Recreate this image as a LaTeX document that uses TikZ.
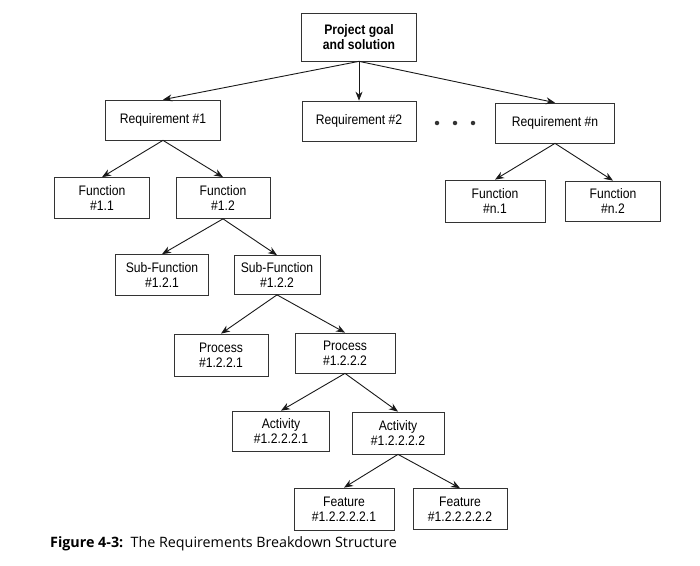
\documentclass[tikz,border=0pt]{standalone}
\usepackage{fontspec}
\setmainfont{Liberation Sans}[FakeStretch=0.88]
\newfontfamily\capfont{Open Sans}
\usetikzlibrary{arrows.meta}
\tikzset{
  box/.style={draw=black!80, line width=0.7pt, align=center, inner sep=2pt,
    font=\fontsize{13.8}{15.5}\selectfont, text=black},
  link/.style={draw=black!90, line width=0.9pt, -{Stealth[length=9pt,width=7pt]}},
  dot/.style={circle, fill=black!80, inner sep=0pt, minimum size=4.5pt}
}
\begin{document}
\begin{tikzpicture}[x=1pt,y=-1pt]
\useasboundingbox (0,0) rectangle (700,565);
\node[box, minimum width=115pt, minimum height=48pt, font=\bfseries\fontsize{13.8}{15.5}\selectfont] (goal) at (359,37) {Project goal\\and solution};
\node[box, minimum width=115pt, minimum height=40pt] (req1) at (163,120) {Requirement \#1};
\node[box, minimum width=114pt, minimum height=40pt] (req2) at (359,121) {Requirement \#2};
\node[box, minimum width=119pt, minimum height=40pt] (reqn) at (555,123) {Requirement \#n};
\node[dot] (d1) at (437,123) {};
\node[dot] (d2) at (455,123) {};
\node[dot] (d3) at (473,123) {};
\node[box, minimum width=95pt, minimum height=41pt] (f11) at (102,198) {Function\\\#1.1};
\node[box, minimum width=94pt, minimum height=41pt] (f12) at (223,198) {Function\\\#1.2};
\node[box, minimum width=100pt, minimum height=42pt] (fn1) at (495,201) {Function\\\#n.1};
\node[box, minimum width=95pt, minimum height=40pt] (fn2) at (613,201) {Function\\\#n.2};
\node[box, minimum width=93pt, minimum height=41pt] (s121) at (162,275) {Sub-Function\\\#1.2.1};
\node[box, minimum width=86pt, minimum height=39pt] (s122) at (277,275) {Sub-Function\\\#1.2.2};
\node[box, minimum width=94pt, minimum height=42pt] (p1) at (221,355) {Process\\\#1.2.2.1};
\node[box, minimum width=100pt, minimum height=40pt] (p2) at (345,353) {Process\\\#1.2.2.2};
\node[box, minimum width=97pt, minimum height=40pt] (a1) at (281,431) {Activity\\\#1.2.2.2.1};
\node[box, minimum width=92pt, minimum height=42pt] (a2) at (398,433) {Activity\\\#1.2.2.2.2};
\node[box, minimum width=100pt, minimum height=42pt] (fe1) at (344,509) {Feature\\\#1.2.2.2.2.1};
\node[box, minimum width=94pt, minimum height=41pt] (fe2) at (460,509) {Feature\\\#1.2.2.2.2.2};
\draw[link] (goal.south) -- (req1.north);
\draw[link] (goal.south) -- (req2.north);
\draw[link] (goal.south) -- (reqn.north);
\draw[link] (req1.south) -- (f11.north);
\draw[link] (req1.south) -- (f12.north);
\draw[link] (reqn.south) -- (fn1.north);
\draw[link] (reqn.south) -- (fn2.north);
\draw[link] (f12.south) -- (s121.north);
\draw[link] (f12.south) -- (s122.north);
\draw[link] (s122.south) -- (p1.north);
\draw[link] (s122.south) -- (p2.north);
\draw[link] (p2.south) -- (a1.north);
\draw[link] (p2.south) -- (a2.north);
\draw[link] (a2.south) -- (fe1.north);
\draw[link] (a2.south) -- (fe2.north);
\node[anchor=west, inner sep=0pt, font=\capfont\fontsize{14.3}{16}\selectfont] (cap) at (50,544) {\textbf{Figure 4-3:}\ \ The Requirements Breakdown Structure};
\end{tikzpicture}
\end{document}
